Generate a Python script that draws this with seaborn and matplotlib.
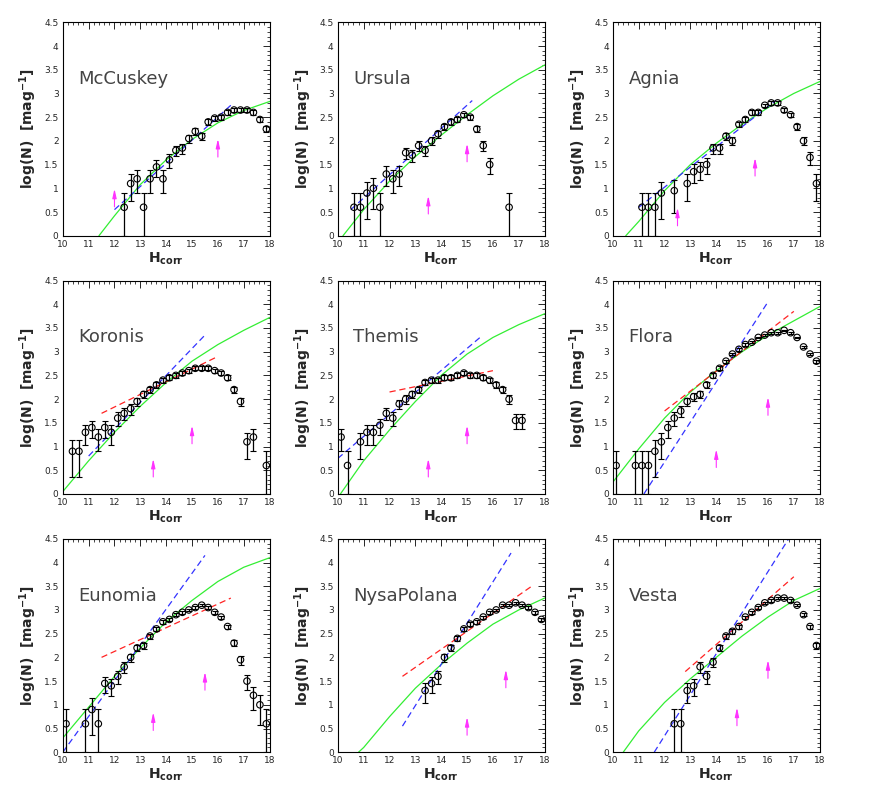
import numpy as np
import pandas as pd
import matplotlib
matplotlib.use("Agg")
import matplotlib.pyplot as plt
import seaborn as sns
from matplotlib.ticker import MultipleLocator

names = ["McCuskey", "Ursula", "Agnia", "Koronis", "Themis", "Flora", "Eunomia", "NysaPolana", "Vesta"]

obs_h = {
 "McCuskey": [12.375,12.625,12.875,13.125,13.375,13.625,13.875,14.125,14.375,14.625,14.875,15.125,15.375,15.625,15.875,16.125,16.375,16.625,16.875,17.125,17.375,17.625,17.875],
 "Ursula": [10.625,10.875,11.125,11.375,11.625,11.875,12.125,12.375,12.625,12.875,13.125,13.375,13.625,13.875,14.125,14.375,14.625,14.875,15.125,15.375,15.625,15.875,16.625],
 "Agnia": [11.125,11.375,11.625,11.875,12.375,12.875,13.125,13.375,13.625,13.875,14.125,14.375,14.625,14.875,15.125,15.375,15.625,15.875,16.125,16.375,16.625,16.875,17.125,17.375,17.625,17.875],
 "Koronis": [10.375,10.625,10.875,11.125,11.375,11.625,11.875,12.125,12.375,12.625,12.875,13.125,13.375,13.625,13.875,14.125,14.375,14.625,14.875,15.125,15.375,15.625,15.875,16.125,16.375,16.625,16.875,17.125,17.375,17.875],
 "Themis": [10.125,10.375,10.875,11.125,11.375,11.625,11.875,12.125,12.375,12.625,12.875,13.125,13.375,13.625,13.875,14.125,14.375,14.625,14.875,15.125,15.375,15.625,15.875,16.125,16.375,16.625,16.875,17.125],
 "Flora": [10.125,10.875,11.125,11.375,11.625,11.875,12.125,12.375,12.625,12.875,13.125,13.375,13.625,13.875,14.125,14.375,14.625,14.875,15.125,15.375,15.625,15.875,16.125,16.375,16.625,16.875,17.125,17.375,17.625,17.875],
 "Eunomia": [10.125,10.875,11.125,11.375,11.625,11.875,12.125,12.375,12.625,12.875,13.125,13.375,13.625,13.875,14.125,14.375,14.625,14.875,15.125,15.375,15.625,15.875,16.125,16.375,16.625,16.875,17.125,17.375,17.625,17.875],
 "NysaPolana": [13.375,13.625,13.875,14.125,14.375,14.625,14.875,15.125,15.375,15.625,15.875,16.125,16.375,16.625,16.875,17.125,17.375,17.625,17.875],
 "Vesta": [12.375,12.625,12.875,13.125,13.375,13.625,13.875,14.125,14.375,14.625,14.875,15.125,15.375,15.625,15.875,16.125,16.375,16.625,16.875,17.125,17.375,17.625,17.875],
}
obs_logn = {
 "McCuskey": [0.6,1.1,1.2,0.6,1.2,1.45,1.2,1.6,1.8,1.85,2.05,2.2,2.1,2.4,2.48,2.5,2.6,2.65,2.65,2.65,2.6,2.45,2.25],
 "Ursula": [0.6,0.6,0.9,1.0,0.6,1.3,1.2,1.3,1.75,1.7,1.9,1.8,2.0,2.15,2.3,2.4,2.45,2.55,2.5,2.25,1.9,1.5,0.6],
 "Agnia": [0.6,0.6,0.6,0.9,0.95,1.1,1.35,1.4,1.5,1.85,1.85,2.1,2.0,2.35,2.45,2.6,2.6,2.75,2.8,2.8,2.65,2.55,2.3,2.0,1.65,1.1],
 "Koronis": [0.9,0.9,1.3,1.4,1.2,1.4,1.3,1.6,1.7,1.8,1.95,2.1,2.2,2.3,2.4,2.45,2.5,2.55,2.6,2.65,2.65,2.65,2.6,2.55,2.45,2.2,1.95,1.1,1.2,0.6],
 "Themis": [1.2,0.6,1.1,1.3,1.3,1.45,1.7,1.6,1.9,2.0,2.1,2.2,2.35,2.4,2.4,2.45,2.45,2.5,2.55,2.5,2.5,2.45,2.4,2.3,2.2,2.0,1.55,1.55],
 "Flora": [0.6,0.6,0.6,0.6,0.9,1.1,1.4,1.6,1.75,1.95,2.05,2.1,2.3,2.5,2.65,2.8,2.95,3.05,3.15,3.2,3.3,3.35,3.4,3.4,3.45,3.4,3.3,3.1,2.95,2.8],
 "Eunomia": [0.6,0.6,0.9,0.6,1.45,1.4,1.6,1.8,2.0,2.2,2.25,2.45,2.6,2.75,2.8,2.9,2.95,3.0,3.05,3.1,3.05,2.95,2.85,2.65,2.3,1.95,1.5,1.2,1.0,0.6],
 "NysaPolana": [1.3,1.45,1.6,2.0,2.2,2.4,2.6,2.7,2.75,2.85,2.95,3.0,3.1,3.1,3.15,3.1,3.05,2.95,2.8],
 "Vesta": [0.6,0.6,1.3,1.4,1.8,1.6,1.9,2.2,2.45,2.55,2.65,2.85,2.95,3.05,3.15,3.2,3.25,3.25,3.2,3.1,2.9,2.65,2.25],
}
model_h = {
 "McCuskey": [11.4,12,13,14,15,16,17,18],
 "Ursula": [10.2,11,12,13,14,15,16,17,18],
 "Agnia": [10.5,11,12,13,14,15,16,17,18],
 "Koronis": [10,11,12,13,14,15,16,17,18],
 "Themis": [10.1,11,12,13,14,15,16,17,18],
 "Flora": [10,11,12,13,14,15,16,17,18],
 "Eunomia": [10,11,12,13,14,15,16,17,18],
 "NysaPolana": [10.8,11,12,13,14,15,16,17,18],
 "Vesta": [10.4,11,12,13,14,15,16,17,18],
}
model_logn = {
 "McCuskey": [0,0.42,1.08,1.6,2.03,2.38,2.64,2.83],
 "Ursula": [0,0.55,1.15,1.67,2.12,2.55,2.95,3.3,3.6],
 "Agnia": [0,0.3,0.95,1.5,1.95,2.35,2.7,3.0,3.25],
 "Koronis": [0.05,0.7,1.3,1.85,2.35,2.8,3.15,3.45,3.72],
 "Themis": [0,0.7,1.35,1.95,2.5,2.95,3.3,3.57,3.8],
 "Flora": [0.25,0.95,1.6,2.15,2.6,3.0,3.35,3.65,3.95],
 "Eunomia": [0.3,0.95,1.6,2.2,2.75,3.2,3.6,3.9,4.1],
 "NysaPolana": [0,0.1,0.75,1.35,1.85,2.3,2.7,3.0,3.25],
 "Vesta": [0,0.45,1.05,1.55,2.0,2.45,2.85,3.2,3.45],
}
blue_fit = {  # (h0, h1, y0, y1)
 "McCuskey": (12, 16.5, 0.55, 2.75), "Ursula": (10.5, 15.2, 0.55, 2.85),
 "Agnia": (11, 16.3, 0.6, 2.85), "Koronis": (11, 15.5, 0.8, 3.35),
 "Themis": (10, 15.5, 0.75, 3.3), "Flora": (11.2, 16, 0, 4.05),
 "Eunomia": (10, 15.5, 0, 4.15), "NysaPolana": (12.5, 16.7, 0.55, 4.2),
 "Vesta": (11.6, 16.8, 0, 4.5),
}
red_fit = {
 "Koronis": (11.5, 16, 1.7, 2.9), "Themis": (12, 16, 2.15, 2.6),
 "Flora": (12, 17, 1.75, 3.85), "Eunomia": (11.5, 16.5, 2.0, 3.25),
 "NysaPolana": (12.5, 17.5, 1.6, 3.5), "Vesta": (12.8, 17, 1.7, 3.7),
}
arrows = {  # (h, y_base)
 "McCuskey": [(12, 0.55), (16, 1.6)], "Ursula": [(13.5, 0.4), (15, 1.5)],
 "Agnia": [(12.5, 0.15), (15.5, 1.2)], "Koronis": [(13.5, 0.3), (15, 1.0)],
 "Themis": [(13.5, 0.3), (15, 1.0)], "Flora": [(14, 0.5), (16, 1.6)],
 "Eunomia": [(13.5, 0.4), (15.5, 1.25)], "NysaPolana": [(15, 0.3), (16.5, 1.3)],
 "Vesta": [(14.8, 0.5), (16, 1.5)],
}
BIN = 0.25

sns.set_theme(style="white", font="DejaVu Sans")
fig, axes = plt.subplots(3, 3, figsize=(8.72, 7.96), dpi=100)
fig.subplots_adjust(left=0.072, right=0.94, top=0.972, bottom=0.055, wspace=0.33, hspace=0.21)

for ax, name in zip(axes.flat, names):
    h = np.array(obs_h[name]); y = np.array(obs_logn[name])
    n = 10**y * BIN                       # counts per bin
    up = np.log10((n + np.sqrt(n)) / BIN) - y
    low_val = n - np.sqrt(n)
    lo = np.where(low_val > 0.02, y - np.log10(np.clip(low_val, 0.02, None) / BIN), y)
    lo = np.clip(np.minimum(lo, y), 0, None)
    up = np.clip(up, 0, None)
    ax.errorbar(h, y, yerr=[lo, up], fmt="none", ecolor="black", elinewidth=0.9, capsize=2, capthick=0.8, zorder=3)
    sns.scatterplot(x=h, y=y, ax=ax, marker="o", s=22, facecolor="none", edgecolor="black", linewidth=0.8, zorder=4)
    sns.lineplot(x=model_h[name], y=model_logn[name], ax=ax, color="#33ee33", lw=0.9, zorder=2)
    b = blue_fit[name]
    sns.lineplot(x=[b[0], b[1]], y=[b[2], b[3]], ax=ax, color="#3333ff", lw=0.9, dashes=(5, 3), zorder=2)
    if name in red_fit:
        r = red_fit[name]
        sns.lineplot(x=[r[0], r[1]], y=[r[2], r[3]], ax=ax, color="#ff2222", lw=0.9, dashes=(5, 3), zorder=2)
    for ah, ay in arrows[name]:
        ax.annotate("", xy=(ah, ay + 0.5), xytext=(ah, ay),
                    arrowprops=dict(arrowstyle="-|>,head_length=0.45,head_width=0.1", color="#ff33ff", lw=0.8))
    ax.text(10.6, 3.3, name, fontsize=13, color="#444444", va="center")
    ax.set_xlim(10, 18); ax.set_ylim(0, 4.5)
    ax.xaxis.set_major_locator(MultipleLocator(1)); ax.xaxis.set_minor_locator(MultipleLocator(0.2))
    ax.yaxis.set_major_locator(MultipleLocator(0.5)); ax.yaxis.set_minor_locator(MultipleLocator(0.1))
    ax.tick_params(which="both", direction="in", top=True, right=True, labelsize=6.5, pad=3)
    ax.tick_params(which="major", length=5, width=0.7)
    ax.tick_params(which="minor", length=2.5, width=0.6)
    ax.set_yticks(np.arange(0, 4.51, 0.5))
    ax.set_yticklabels([f"{v:g}" for v in np.arange(0, 4.51, 0.5)])
    for s in ax.spines.values():
        s.set_linewidth(0.8); s.set_color("black")
    ax.set_xlabel(r"$\mathbf{H_{corr}}$", fontsize=10, labelpad=1)
    ax.set_ylabel(r"log(N)  [mag$^{\mathbf{-1}}$]", fontsize=10, fontweight="bold", labelpad=4)

fig.savefig("out.png", dpi=100)
